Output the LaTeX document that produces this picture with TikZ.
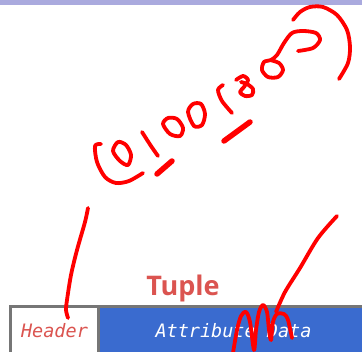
\documentclass[tikz,border=0pt]{standalone}
\usepackage{fontspec}
\setmonofont{DejaVu Sans Mono}
\newfontfamily\titlefont{Open Sans}
\usetikzlibrary{positioning}
\definecolor{slidebar}{RGB}{170,170,222}
\definecolor{tuplered}{RGB}{219,84,80}
\definecolor{fieldblue}{RGB}{58,107,207}
\definecolor{framegray}{RGB}{118,118,118}

\begin{document}
\begin{tikzpicture}[x=1pt, y=-1pt,
	cell/.style={draw=framegray, line width=2.5pt, outer sep=0pt, inner sep=0pt, minimum height=49pt, anchor=north west, font=\ttfamily\itshape\fontsize{18.5}{20}\selectfont},
	ink/.style={draw=red, line width=3.8pt, line cap=round, line join=round}]
	\useasboundingbox (0,0) rectangle (362,352);
	%slide strip on top
	\fill[slidebar] (0,0) rectangle (362,5.5);
	
	%tuple record: header cell + attribute cell
	\node[cell, fill=white, text=tuplered, minimum width=88pt] (header) at (10.5,306.5) {Header};
	\node[cell, fill=fieldblue, text=white, minimum width=270pt] (attrdata) at (header.north east) {Attribute Data};
	\node[font=\titlefont\bfseries\fontsize{27}{30}\selectfont, text=tuplered, inner sep=0pt, anchor=base] (tuple) at (183,295.5) {Tuple};
	
	%pen scribbles
	%bracket and digits
	\draw[ink] plot[smooth] coordinates {(101,144) (95,146) (97,162) (105,177) (116,183) (129,181) (143,173)};
	\draw[ink] plot[smooth cycle] coordinates {(118,142) (126,145) (131,155) (128,165) (120,161) (113,151)};
	\draw[ink] plot[smooth] coordinates {(142,132) (151,146) (158,156)};
	\draw[ink] plot[smooth cycle] coordinates {(163,124) (168,118) (177,119) (183,128) (180,136) (170,134)};
	\draw[ink] plot[smooth cycle] coordinates {(188,112) (193,104) (201,104) (205,114) (202,125) (194,126)};
	\draw[ink] plot[smooth] coordinates {(223,85) (218,90) (222,101) (232,113)};
	\draw[ink] plot[smooth] coordinates {(236,80) (243,76) (248,80) (244,87) (240,92) (245,96) (252,95) (253,89) (247,84) (241,82)};
	%underlines
	\draw[ink, line width=5.5pt] (157,174) -- (172,161);
	\draw[ink, line width=5.5pt] (224,141) -- (250,122);
	%curl and arc at the top
	\draw[ink] plot[smooth] coordinates {(298,51) (313,48) (320,40) (316,33) (303,31) (292,33) (284,43) (277,55) (271,60) (264,62) (262,70) (268,77) (278,77) (283,70) (279,63) (270,60)};
	\draw[ink] plot[smooth] coordinates {(293,20) (300,12) (310,7) (323,7) (337,15) (347,30) (350,47) (348,63) (339,79)};
	
	%lines down to the cells
	\draw[ink] plot[smooth] coordinates {(88,208) (85,222) (77,250) (71,275) (67,300) (66,310) (68,318)};
	\draw[ink] plot[smooth] coordinates {(337,216) (318,238) (300,268) (285,292) (276,312)};
	\draw[ink] plot[smooth] coordinates {(233,353) (237,330) (241,316) (246,312) (250,322) (254,350) (256,330) (259,312) (263,305) (267,312) (269,330) (271,340) (273,322) (277,314) (284,314) (288,320) (292,338)};
\end{tikzpicture}
\end{document}
